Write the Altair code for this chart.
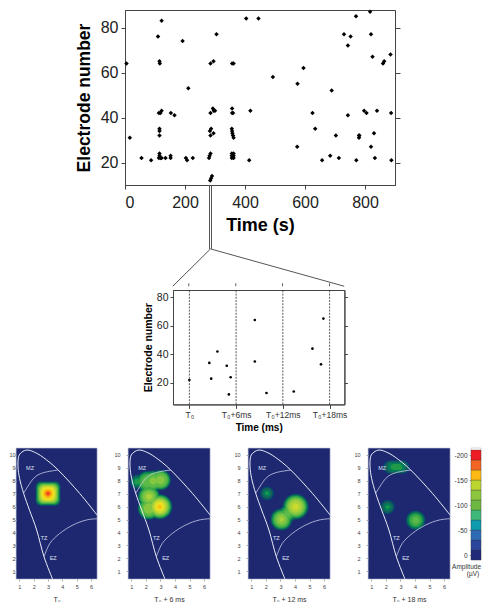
import altair as alt
import pandas as pd

FONT = "Liberation Sans"

# ---- raster of spikes (top panel)
spike_t = [5,16,55,87,110,122,115,116,113,118,122,115,115,115,115,115,113,118,122,135,152,152,153,165,192,203,207,211,226,
           285,280,282,285,283,287,285,295,284,287,290,285,295,296,293,300,305,357,362,357,357,360,356,357,358,360,362,356,356,356,362,362,362,
           404,418,414,445,493,574,575,595,625,634,657,684,689,703,713,730,743,743,752,770,771,780,780,781,797,805,817,820,820,825,830,833,840,860,864,885,887,888]
spike_e = [64,31,22,21,76,83,65,64,42,42,43,35,34,32,24,23,22,22,22,22,23,22,42,41,74,22,21,53,22,
           42,22,23,24,34,35,32,33,12,13,14,64,65,43,44,43,77,64,64,44,42,42,35,34,33,32,31,24,23,22,24,23,22,
           84,43,21,84,58,27,55,62,42,35,21,23,52,32,22,77,72,41,76,85,21,32,31,32,43,42,87,77,27,67,33,22,43,64,65,68,42,21]

# ---- connector between the raster and the inset (in raster units)
conn_seg = ["a","a","b","b","c","c","d","d"]
conn_t = [281.7,281.7,288.3,288.3,285,159.3,285,730.7]
conn_e = [10,-18.4,10,-18.4,-18.4,-35,-18.4,-35]

# ---- tops of the inset's dashed markers, which stand just above its frame
stub_t = [212.7,369.3,525,681.7]
stub_lo = [-35,-35,-35,-35]
stub_hi = [-33.7,-33.7,-33.7,-33.7]

# ---- inset
inset_t = [0,2.56,2.8,3.6,4.8,5.3,5.07,8.4,8.4,9.9,13.4,15.8,16.9,17.2]
inset_e = [22,34,23,42,32,24,12,64,35,13,14,44,33,65]
inset_marks = [0,6,12,18]
inset_labels = ["T₀","T₀+6ms","T₀+12ms","T₀+18ms"]

# ---- heat maps: contour stacks
LEVELS = [15,30,45,60,75,90,105,120,135,150,165,180,195]
HEAT_DOMAIN = [0,30,60,90,120,150,170,190,200]
HEAT_RANGE = ["#1d2870","#1c5c58","#1f9a48","#5cbb48","#acd23a","#eae222","#fdb913","#f26522","#ed1c24"]

blobs_t0 = [(3.0,7.0,1.08,[.87,.84,.80,.76,.72,.68,.64,.58,.52,.45,.35,.24,.13])]
blobs_t6 = [
    (3.01,8.05,1.12,[.72,.68,.64,.60,.55,.48,.30]),
    (2.50,7.98,1.12,[.72,.68,.64,.60,.55,.46,.25]),
    (2.10,7.92,1.12,[.75,.71,.66,.60,.52,.36]),
    (1.41,7.92,1.12,[.50,.42,.33,.20]),
    (2.21,6.76,1.12,[.78,.74,.70,.65,.60,.52,.40,.20]),
    (2.21,5.86,1.12,[.78,.74,.70,.65,.60,.50,.35]),
    (2.95,5.99,1.12,[.88,.84,.80,.76,.72,.66,.60,.52,.42,.30,.16]),
]
blobs_t12 = [
    (4.05,5.99,1.12,[.90,.86,.80,.75,.70,.64,.56,.42,.22]),
    (3.07,5.01,1.12,[.76,.72,.67,.62,.56,.48,.35,.15]),
    (3.52,5.48,1.12,[.62,.58,.52,.46,.38,.25]),
    (2.08,7.02,1.12,[.48,.38,.27,.12]),
]
blobs_t18 = [
    (2.72,9.05,.58,[.90,.78,.62,.40]),
    (2.12,5.96,1.12,[.50,.40,.28,.12]),
    (4.05,4.94,1.12,[.68,.62,.56,.48,.38,.22]),
]
panel_titles = ["T₀","T₀ + 6 ms","T₀ + 12 ms","T₀ + 18 ms"]

outer_x = [3.32,2.72,2.21,1.71,1.30,1.02,.91,.95,1.18,1.53,1.99,2.67,3.71,5.2,6.41]
outer_y = [.39,2.13,4.19,5.73,7.02,8.17,9.07,9.85,10.2,10.36,10.23,9.79,8.82,7.02,5.35]
mz_x = [1.30,1.99,2.67,3.71]
mz_y = [7.02,8.17,8.61,8.82]
ez_x = [2.72,3.13,3.82,4.74,5.66,6.41]
ez_y = [2.13,3.16,3.93,4.58,4.96,5.06]
zone_names = ["MZ","TZ","EZ"]
zone_x = [1.75,2.72,3.36]
zone_y = [9.0,3.57,2.05]

bar_amp = [0,-20,-40,-60,-80,-100,-120,-140,-160,-180,-200]
bar_col = ["#1f2a78","#2b459c","#2f6bb5","#0e9bb0","#3fb87a","#6db840","#8cc63f","#bcd62f","#fdb913","#f26522","#ed1c24"]
bar_ticks = [0,-50,-100,-150,-200]


def spacer(w, h):
    return alt.Chart(pd.DataFrame({"a": [0]})).mark_point(opacity=0, size=1).encode(
        x=alt.value(0), y=alt.value(0)
    ).properties(width=w, height=h, view=alt.ViewBackground(stroke=None))


# ---- top raster
top_df = pd.DataFrame({"t": spike_t, "e": spike_e})
conn_df = pd.DataFrame({"s": conn_seg, "t": conn_t, "e": conn_e})
stub_df = pd.DataFrame({"t": stub_t, "lo": stub_lo, "hi": stub_hi})
tx = alt.Scale(domain=[0, 900], nice=False)
ty = alt.Scale(domain=[10, 87.78], nice=False)
top_pts = alt.Chart(top_df).mark_point(shape="diamond", filled=True, size=20, color="black", opacity=1).encode(
    x=alt.X("t:Q", scale=tx, axis=alt.Axis(values=[0,200,400,600,800], title="Time (s)", grid=False, labelFont=FONT,
        labelFontSize=16, labelColor="#222", titleFont=FONT, titleFontSize=18, titleFontWeight="bold", titleColor="black",
        tickColor="#444", domainColor="#444", tickSize=4, labelPadding=5, titlePadding=6)),
    y=alt.Y("e:Q", scale=ty, axis=alt.Axis(values=[20,40,60,80], title="Electrode number", grid=False, labelFont=FONT,
        labelFontSize=16, labelColor="#222", titleFont=FONT, titleFontSize=17.5, titleFontWeight="bold", titleColor="black",
        tickColor="#444", domainColor="#444", tickSize=4, labelPadding=3, titlePadding=7)),
)
top_right = alt.Chart(top_df).mark_point(opacity=0).encode(
    x=alt.X("t:Q", scale=tx),
    y=alt.Y("e:Q", scale=ty, axis=alt.Axis(orient="right", values=[20,40,60,80], labels=False, title=None, grid=False,
        tickColor="#444", domainColor="#444", tickSize=5)),
)
top_conn = alt.Chart(conn_df).mark_line(color="#555", strokeWidth=1, clip=False).encode(
    x=alt.X("t:Q", scale=tx), y=alt.Y("e:Q", scale=ty, axis=None), detail="s:N"
)
top_stub = alt.Chart(stub_df).mark_rule(color="#333", strokeWidth=0.8, clip=False).encode(
    x=alt.X("t:Q", scale=tx), y=alt.Y("lo:Q", scale=ty, axis=None), y2="hi:Q"
)
top = alt.layer(top_pts, top_conn, top_stub, top_right).resolve_scale(y="independent").properties(
    width=270, height=175, view=alt.ViewBackground(stroke="#444", strokeWidth=1)
)

# ---- inset
ix = alt.Scale(domain=[-2.1, 19.9], nice=False)
iy = alt.Scale(domain=[5, 85], nice=False)
inset_df = pd.DataFrame({"t": inset_t, "e": inset_e})
mark_df = pd.DataFrame({"t": inset_marks, "lo": [5]*4, "hi": [85]*4})
label_expr = "[" + ",".join(f"'{v}'" for v in inset_labels) + "][datum.value / 6]"
ins_x_axis = alt.Axis(values=inset_marks, labelExpr=label_expr, title="Time (ms)", grid=False,
        labelFont=FONT, labelFontSize=8.5, labelColor="#333", titleFont=FONT, titleFontSize=10, titleFontWeight="bold",
        titleColor="black", tickColor="#444", domainColor="#444", tickSize=4, labelPadding=2, titlePadding=4, labelOverlap=False)
ins_pts = alt.Chart(inset_df).mark_circle(size=7, color="black", opacity=1).encode(
    x=alt.X("t:Q", scale=ix, axis=ins_x_axis),
    y=alt.Y("e:Q", scale=iy, axis=alt.Axis(values=[20,40,60,80], title="Electrode number", grid=False, labelFont=FONT,
        labelFontSize=10.5, labelColor="#222", titleFont=FONT, titleFontSize=10.5, titleFontWeight="bold", titleColor="black",
        tickColor="#444", domainColor="#444", tickSize=3, labelPadding=2, titlePadding=3)),
)
ins_rules = alt.Chart(mark_df).mark_rule(color="#333", strokeWidth=0.8, strokeDash=[2, 1.2]).encode(
    x=alt.X("t:Q", scale=ix, axis=ins_x_axis), y=alt.Y("lo:Q", scale=iy, axis=None), y2="hi:Q"
)
ins_right = alt.Chart(inset_df).mark_point(opacity=0).encode(
    x=alt.X("t:Q", scale=ix, axis=ins_x_axis),
    y=alt.Y("e:Q", scale=iy, axis=alt.Axis(orient="right", values=[20,40,60,80], labels=False, title=None, grid=False,
        tickColor="#444", domainColor="#444", tickSize=3)),
)
inset = alt.layer(ins_pts, ins_rules, ins_right).resolve_scale(y="independent").properties(
    width=171.4, height=114.4, view=alt.ViewBackground(stroke="#444", strokeWidth=1)
)

# ---- heat maps
hx = alt.Scale(domain=[0.77, 6.41], nice=False)
hy = alt.Scale(domain=[0.41, 10.52], nice=False)
zones_df = pd.DataFrame({"n": zone_names, "x": zone_x, "y": zone_y})


def line_df(xs, ys):
    return pd.DataFrame({"x": xs, "y": ys, "i": list(range(len(xs)))})


def heat(blobs, title, corner, tick, pad, w=82):
    rows = []
    for cx, cy, asp, radii in blobs:
        for lev, r in zip(LEVELS, radii):
            rows.append({"amp": lev, "x": cx - r, "x2": cx + r, "y": cy - r * asp, "y2": cy + r * asp})
    df = pd.DataFrame(rows).sort_values("amp", kind="stable")
    xa = alt.Axis(values=[1,2,3,4,5,6], title=title, grid=False, domain=False,
            labelFont=FONT, labelFontSize=5.5, labelColor="#444", titleFont=FONT, titleFontSize=7, titleFontWeight="normal",
            titleColor="#333", tickColor="#aaa", tickSize=2, labelPadding=3, titlePadding=6, labelOverlap=False)
    ya = alt.Axis(values=list(range(1, 11)), title=None, grid=False, domain=False,
            labelFont=FONT, labelFontSize=5.5, labelColor="#444", tickColor="#aaa", tickSize=tick, labelPadding=pad, labelOverlap=False)
    contour = alt.Chart(df).mark_rect(cornerRadius=corner, clip=True).encode(
        x=alt.X("x:Q", scale=hx, axis=xa),
        x2="x2:Q",
        y=alt.Y("y:Q", scale=hy, axis=ya),
        y2="y2:Q",
        color=alt.Color("amp:Q", scale=alt.Scale(domain=HEAT_DOMAIN, range=HEAT_RANGE), legend=None),
    )

    def curve(xs, ys, width, colour):
        return alt.Chart(line_df(xs, ys)).mark_line(interpolate="cardinal", strokeWidth=width, color=colour, clip=True).encode(
            x=alt.X("x:Q", scale=hx, axis=xa), y=alt.Y("y:Q", scale=hy, axis=ya), order="i:Q"
        )

    names = alt.Chart(zones_df).mark_text(color="#dfe2f0", fontSize=5.5, font=FONT).encode(
        x=alt.X("x:Q", scale=hx, axis=xa), y=alt.Y("y:Q", scale=hy, axis=ya), text="n:N"
    )
    return alt.layer(contour, curve(mz_x, mz_y, 0.8, "#c9cde6"), curve(ez_x, ez_y, 0.8, "#c9cde6"),
                     curve(outer_x, outer_y, 1.0, "#eceef8"), names).properties(
        width=w, height=131, view=alt.ViewBackground(fill="#1d2870", stroke="#b9bdd0", strokeWidth=0.6)
    )


bar_df = pd.DataFrame({"a": bar_amp, "lo": [v + 10 for v in bar_amp], "hi": [v - 10 for v in bar_amp], "x0": [0]*11, "x1": [1]*11})
bx = alt.Scale(domain=[0, 1], nice=False)
by = alt.Scale(domain=[10, -214], nice=False)
bar_xa = alt.Axis(labels=False, ticks=False, domain=False, grid=False, title=None)
bar_ya = alt.Axis(values=bar_ticks, title=None, grid=False, domain=False,
        labelExpr="datum.value == 0 ? '0' : '-' + abs(datum.value)", labelFont=FONT, labelFontSize=6.5, labelColor="#333",
        tickColor="#aaa", tickSize=2, labelPadding=2, labelOverlap=False)
bar_cells = alt.Chart(bar_df).mark_rect(stroke="#333", strokeWidth=0.3).encode(
    x=alt.X("x0:Q", scale=bx, axis=bar_xa),
    x2="x1:Q",
    y=alt.Y("lo:Q", scale=by, axis=bar_ya),
    y2="hi:Q",
    color=alt.Color("a:N", scale=alt.Scale(domain=bar_amp, range=bar_col), legend=None),
)
bar_title_a = alt.Chart(pd.DataFrame({"x": [1], "y": [24], "t": ["Amplitude"]})).mark_text(
    align="right", fontSize=6.5, font=FONT, color="#333").encode(
    x=alt.X("x:Q", scale=bx, axis=bar_xa), y=alt.Y("y:Q", scale=by, axis=bar_ya), text="t:N")
bar_title_b = alt.Chart(pd.DataFrame({"x": [0.2], "y": [38], "t": ["(µV)"]})).mark_text(
    align="center", fontSize=6.5, font=FONT, color="#333").encode(
    x=alt.X("x:Q", scale=bx, axis=bar_xa), y=alt.Y("y:Q", scale=by, axis=bar_ya), text="t:N")
bar = alt.layer(bar_cells, bar_title_a, bar_title_b).properties(
    width=10, height=112, view=alt.ViewBackground(stroke="#aaa", strokeWidth=0.5))

row_top = alt.hconcat(spacer(108.9, 1), top, spacing=0, bounds="flush")
row_mid = alt.hconcat(spacer(156.7, 1), inset, spacing=0, bounds="flush")
row_heat = alt.hconcat(
    heat(blobs_t0, panel_titles[0], 5, 1, 0, w=81), spacer(30.3, 1),
    heat(blobs_t6, panel_titles[1], 50, 2, 6), spacer(37.6, 1),
    heat(blobs_t12, panel_titles[2], 50, 2, 6), spacer(38, 1),
    heat(blobs_t18, panel_titles[3], 50, 2, 6), spacer(20.5, 1),
    bar, spacing=0, bounds="flush",
).resolve_scale(color="independent")

chart = alt.vconcat(
    row_top, row_mid, spacer(1, 12), row_heat, spacing=0
).properties(padding=0, background="white")

chart.save("out.html", embed_options={"renderer": "svg", "actions": False})
